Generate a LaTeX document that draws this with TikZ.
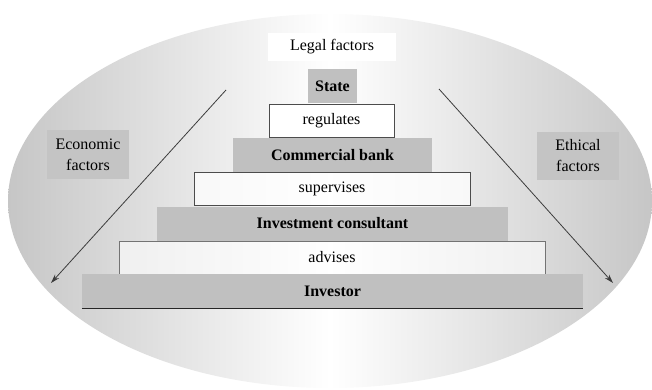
\documentclass[tikz,border=0pt]{standalone}
\usepackage{fontspec}
\setmainfont{Liberation Serif}
\usetikzlibrary{arrows.meta}
\definecolor{tiergray}{HTML}{C0C0C0}
\definecolor{factorgray}{HTML}{C4C4C4}
\definecolor{edgegray}{HTML}{C6C6C6}
\definecolor{linegray}{HTML}{3C3C3C}
\begin{document}
\begin{tikzpicture}[x=1pt,y=-1pt,
  txt/.style={font=\fontsize{16}{21}\selectfont},
  tier/.style={font=\fontsize{16}{21}\selectfont\bfseries,fill=tiergray,inner sep=0pt,minimum height=34pt},
  action/.style={txt,fill=white,fill opacity=0.6,text opacity=1,draw=black!70,line width=0.9pt,inner sep=0pt,minimum height=33pt},
  factor/.style={txt,fill=factorgray,align=center,inner sep=0pt,minimum width=82pt,minimum height=48pt},
  influence/.style={draw=linegray,line width=0.8pt,-{Stealth[length=9pt,width=5.5pt]}}
]
\useasboundingbox (0,0) rectangle (652,390);

% shaded oval background
\shade[left color=edgegray,right color=edgegray,middle color=white]
  (330,201) ellipse [x radius=322, y radius=187];

% factor labels
\node[txt,fill=white,inner sep=0pt,minimum width=128pt,minimum height=28pt] (legal) at (332,47) {Legal factors};
\node[factor] (economic) at (88,154.5) {Economic\\factors};
\node[factor] (ethical) at (578,156) {Ethical\\factors};

% pyramid of participants and relations
\node[tier,minimum width=49pt] (state) at (332.5,86) {State};
\node[action,minimum width=125pt,fill opacity=1] (regulates) at (331.5,120.5) {regulates};
\node[tier,minimum width=199pt] (bank) at (332.5,155) {Commercial bank};
\node[action,minimum width=276pt,fill opacity=0.75] (supervises) at (332,189) {supervises};
\node[tier,minimum width=351pt] (consultant) at (332.5,223.5) {Investment consultant};
\node[action,minimum width=426pt,draw=black!55] (advises) at (332,257.5) {advises};
\node[tier,minimum width=501pt] (investor) at (332.5,291) {Investor};
\draw[black!85,line width=1.2pt] (investor.south west) -- (investor.south east);

% influence arrows
\coordinate (econTop) at (226,90);
\coordinate (econEnd) at (51,283);
\coordinate (ethTop) at (439,89);
\coordinate (ethEnd) at (613,283);
\draw[influence] (econTop) -- (econEnd);
\draw[influence] (ethTop) -- (ethEnd);
\end{tikzpicture}
\end{document}
